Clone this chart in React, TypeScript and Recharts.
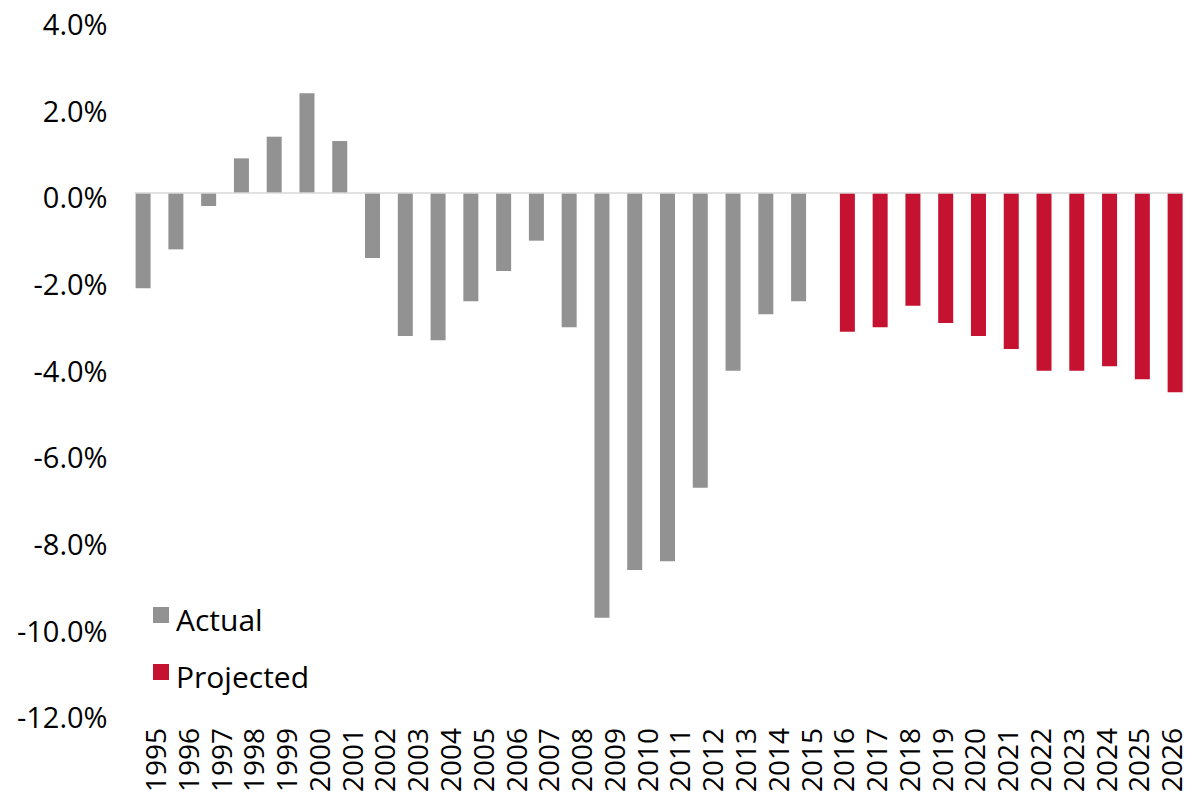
import React from 'react';
import { BarChart, Bar, XAxis, YAxis, ReferenceLine, Legend } from 'recharts';

const years = [
  '1995', '1996', '1997', '1998', '1999', '2000', '2001', '2002', '2003', '2004', '2005',
  '2006', '2007', '2008', '2009', '2010', '2011', '2012', '2013', '2014', '2015',
  '2016', '2017', '2018', '2019', '2020', '2021', '2022', '2023', '2024', '2025', '2026',
];

// 1995 - 2015
const actualValues = [
  -2.2, -1.3, -0.3, 0.8, 1.3, 2.3, 1.2, -1.5, -3.3, -3.4, -2.5,
  -1.8, -1.1, -3.1, -9.8, -8.7, -8.5, -6.8, -4.1, -2.8, -2.5,
];

// 2016 - 2026
const projectedValues = [-3.2, -3.1, -2.6, -3.0, -3.3, -3.6, -4.1, -4.1, -4.0, -4.3, -4.6];

const yTicks = [-12, -10, -8, -6, -4, -2, 0, 2, 4];

const GREY = '#929292';
const RED = '#c41230';
const FONT = '"Open Sans", sans-serif';

const data = years.map((year, i) => ({
  year,
  actual: i < actualValues.length ? actualValues[i] : null,
  projected: i >= actualValues.length ? projectedValues[i - actualValues.length] : null,
}));

const YTick = (props: any) => {
  const { x, y, payload } = props;
  return (
    <text x={x} y={y + 5} dy="0.36em" textAnchor="end" fill="#000" fontSize={29} fontFamily={FONT}>
      {payload.value.toFixed(1)}%
    </text>
  );
};

const XTick = (props: any) => {
  const { x, y, payload } = props;
  const tx = x + 5;
  return (
    <text
      x={tx}
      y={y}
      dy="0.36em"
      textAnchor="end"
      transform={`rotate(-90, ${tx}, ${y})`}
      fill="#000"
      fontSize={28}
      fontFamily={FONT}
    >
      {payload.value}
    </text>
  );
};

const renderLegend = (props: any) => {
  const { payload } = props;
  return (
    <div style={{ fontFamily: FONT, fontSize: 30, color: '#000' }}>
      {payload.map((entry: any) => (
        <div key={entry.value} style={{ display: 'flex', alignItems: 'center', height: 57 }}>
          <span
            style={{
              display: 'inline-block',
              width: 16,
              height: 16,
              background: entry.color,
              marginRight: 7,
              marginTop: -10,
            }}
          />
          <span>{entry.value}</span>
        </div>
      ))}
    </div>
  );
};

export default function App() {
  return (
    <div style={{ position: 'absolute', left: 0, top: 0, background: '#fff' }}>
      <BarChart
        width={1193}
        height={801}
        data={data}
        margin={{ top: 19.7, right: 9.6, bottom: 0, left: 0 }}
        barSize={15}
        barGap={1}
      >
        <XAxis
          dataKey="year"
          axisLine={false}
          tickLine={false}
          tickSize={0}
          tickMargin={15}
          interval={0}
          height={88}
          tick={<XTick />}
        />
        <YAxis
          type="number"
          domain={[-12, 4]}
          ticks={yTicks}
          axisLine={false}
          tickLine={false}
          tickSize={0}
          tickMargin={27}
          width={134.6}
          tick={<YTick />}
        />
        <Legend
          layout="horizontal"
          verticalAlign="middle"
          align="center"
          content={renderLegend}
          wrapperStyle={{ left: 153, top: 591, width: 'auto', height: 'auto' }}
        />
        <Bar dataKey="actual" name="Actual" fill={GREY} isAnimationActive={false} />
        <Bar dataKey="projected" name="Projected" fill={RED} isAnimationActive={false} />
        <ReferenceLine y={0} stroke="#d9d9d9" strokeWidth={1.5} />
      </BarChart>
    </div>
  );
}
